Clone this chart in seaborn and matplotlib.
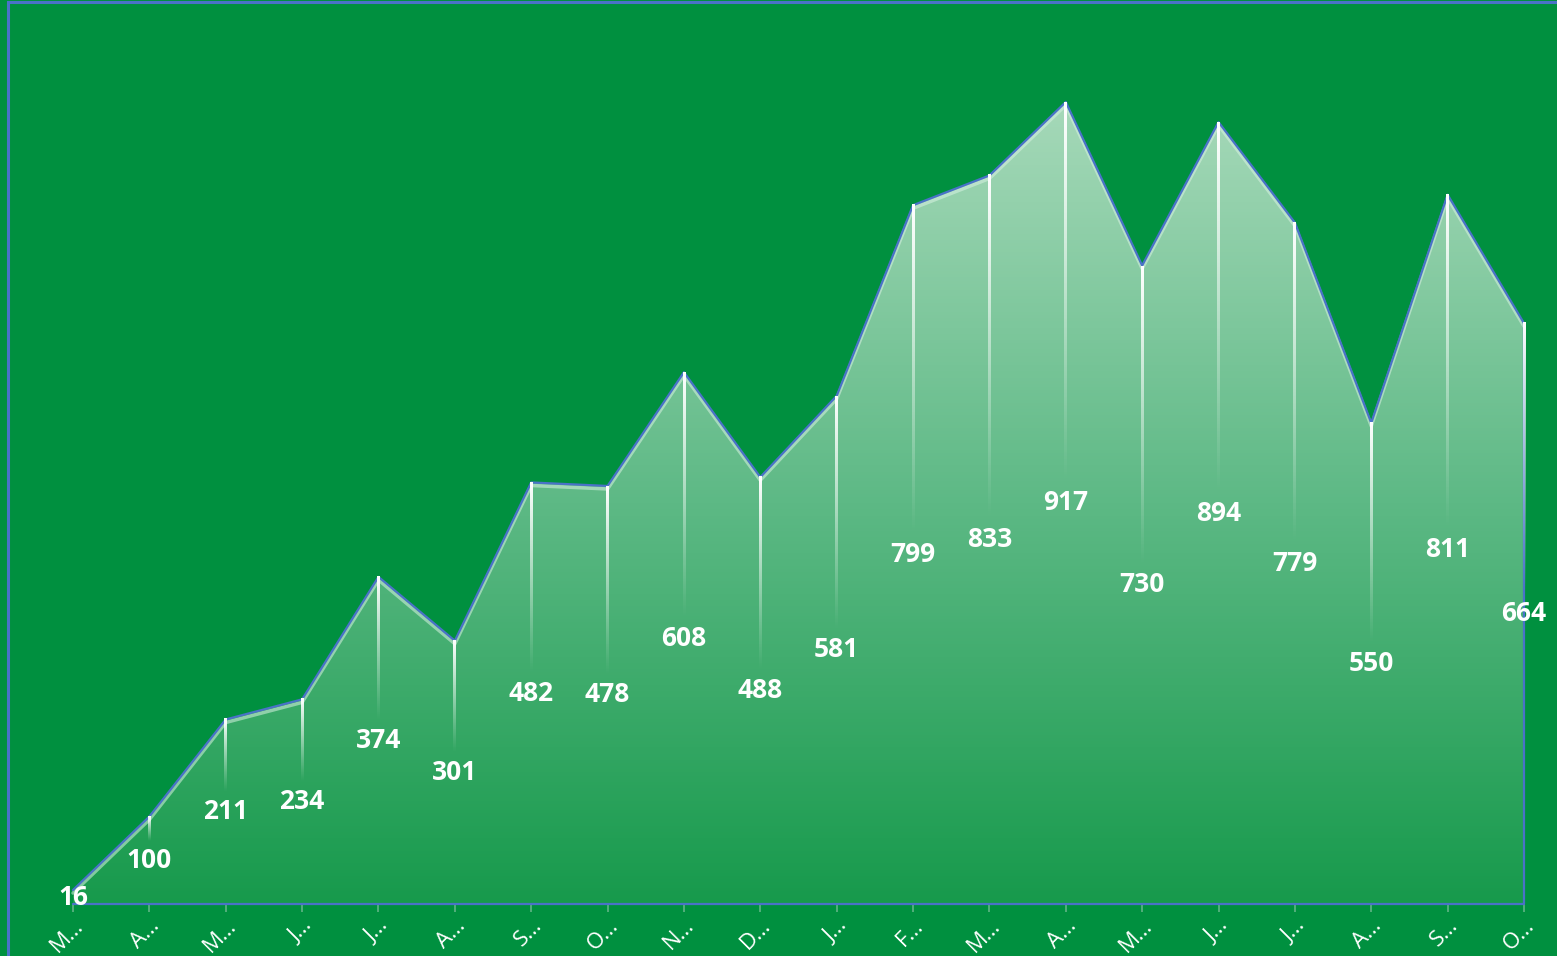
import numpy as np
import pandas as pd
import matplotlib
matplotlib.use("Agg")
import matplotlib.pyplot as plt
import matplotlib.patheffects as pe
from matplotlib.colors import LinearSegmentedColormap
from matplotlib.patches import Rectangle
import seaborn as sns

# data
months = ["Mar", "Apr", "May", "Jun", "Jul", "Aug", "Sep", "Oct", "Nov", "Dec",
          "Jan", "Feb", "Mar", "Apr", "May", "Jun", "Jul", "Aug", "Sep", "Oct"]
values = [16, 100, 211, 234, 374, 301, 482, 478, 608, 488,
          581, 799, 833, 917, 730, 894, 779, 550, 811, 664]
tick_labels = [m[0] + "\u2026" for m in months]

BG = "#00903f"
EDGE = "#4a72c8"

sns.set_theme(style="white")
plt.rcParams["font.family"] = ["Open Sans", "DejaVu Sans"]

df = pd.DataFrame({"idx": np.arange(len(values)), "value": values})

W, H = 1557, 956
fig = plt.figure(figsize=(W / 100, H / 100), dpi=100, facecolor=BG)
# axes box: x 0..19 -> px 73..1524, y 0..917 -> px 904..102
ax = fig.add_axes([73 / W, (H - 904) / H, (1524 - 73) / W, (904 - 102) / H])
ax.set_facecolor(BG)
xmax, ymax = len(values) - 1, max(values)

# outer frame of the chart
fig.patches.append(Rectangle((8 / W, -0.1), 1.2, (H - 2) / H + 0.1, transform=fig.transFigure,
                             fill=False, edgecolor=EDGE, linewidth=2.2, zorder=0))

# gradient area
poly = ax.fill_between(df["idx"], df["value"], 0, color="none", zorder=1)
cmap = LinearSegmentedColormap.from_list("g", ["#179a4c", "#5db985", "#a6d9b9"])
grad = np.linspace(0, 1, 256).reshape(-1, 1)
img = ax.imshow(grad, cmap=cmap, origin="lower", aspect="auto",
                extent=[0, xmax, 0, ymax], zorder=1)
img.set_clip_path(poly.get_paths()[0], transform=ax.transData)

# outline of the area with a light inner highlight
sns.lineplot(data=df, x="idx", y="value", color=EDGE, linewidth=1.6, ax=ax, zorder=4,
             clip_on=False,
             path_effects=[pe.SimpleLineShadow(offset=(0, -2.2), shadow_color="#d8f2e2",
                                               alpha=0.55, linewidth=2.5),
                           pe.Normal()])
ax.plot([0, xmax], [0, 0], color=EDGE, linewidth=1.6, zorder=4, clip_on=False)
ax.plot([xmax, xmax], [0, values[-1]], color=EDGE, linewidth=1.6, zorder=4, clip_on=False)

# fading white drop lines (tiny gradient images) and labels at half height
half_w = 1.4 * xmax / (1524 - 73)
fade = np.ones((200, 1, 4))
fade[:, 0, 3] = np.linspace(0.0, 1.0, 200) ** 1.1
for i, v in enumerate(values):
    top, bottom = v, v / 2 + 22
    if bottom < top:
        ax.imshow(fade, origin="lower", aspect="auto", interpolation="bilinear",
                  extent=[i - half_w, i + half_w, bottom, top], zorder=5, clip_on=False)
    ax.text(i, max(v / 2, 8), str(v), ha="center", va="center", color="white",
            fontsize=19, fontweight="bold", zorder=6)

ax.set_xlim(0, xmax)
ax.set_ylim(0, ymax)

# x ticks
ax.set_xticks(df["idx"])
ax.set_xticklabels(tick_labels, rotation=45, ha="right", rotation_mode="anchor",
                   color="white", fontsize=16)
ax.tick_params(axis="x", length=6, width=1.2, color="#5fb585", pad=2, bottom=True)
ax.set_yticks([])
for s in ax.spines.values():
    s.set_visible(False)
ax.set_xlabel("")
ax.set_ylabel("")

fig.savefig("out.png", dpi=100, facecolor=BG)
